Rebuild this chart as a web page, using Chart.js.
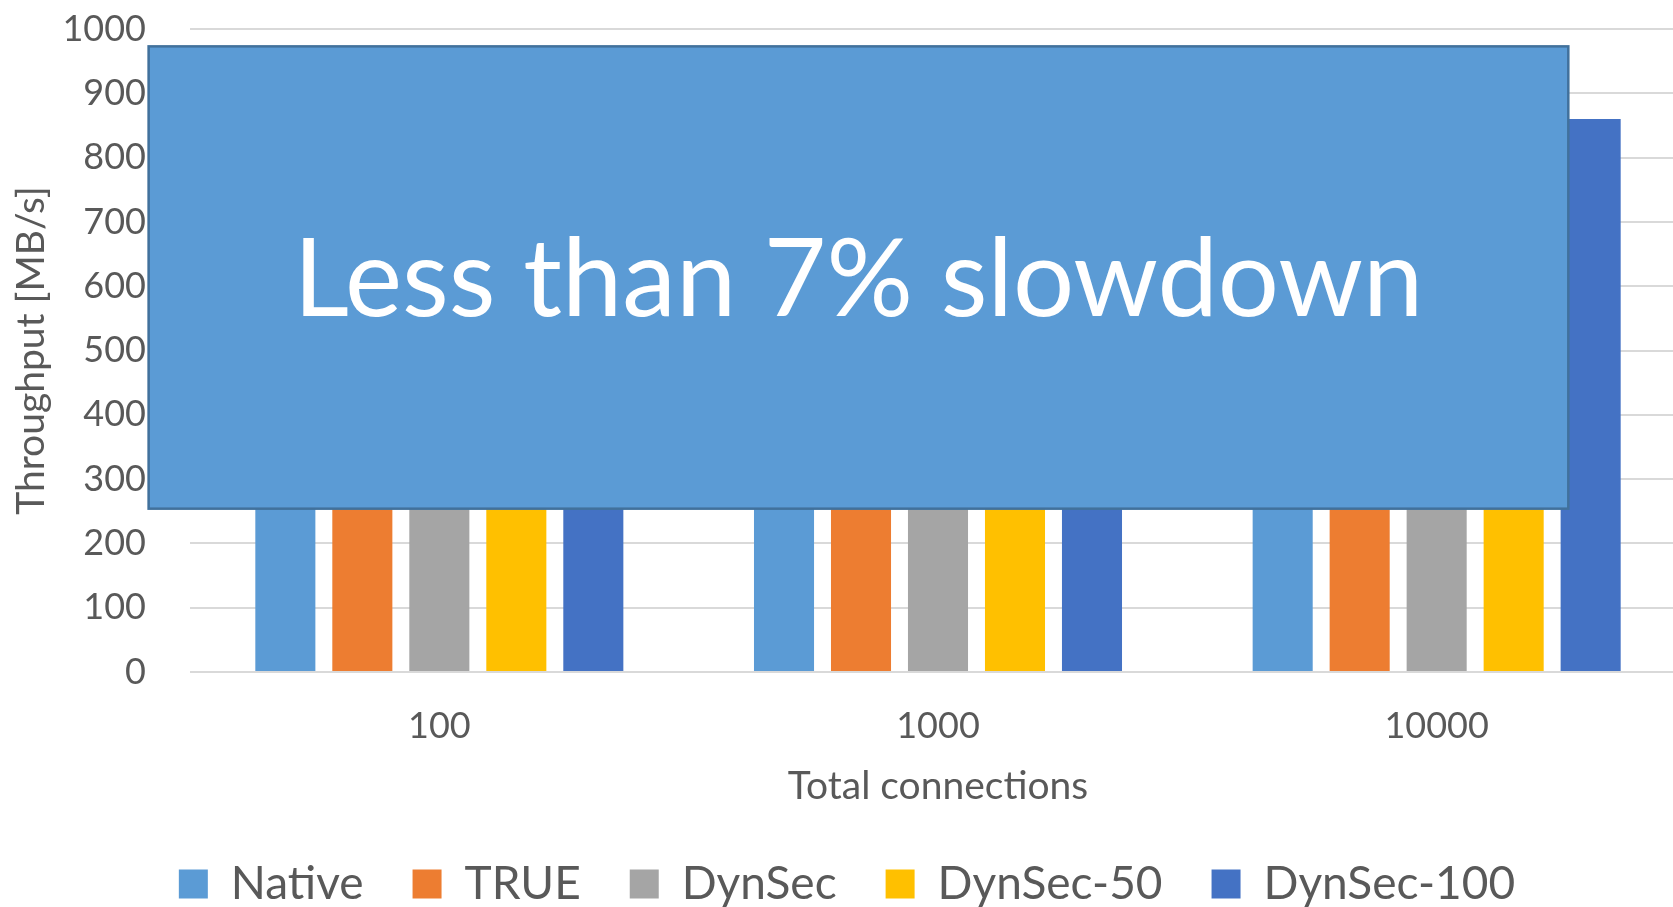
<!DOCTYPE html>
<html>
<head>
<meta charset="utf-8">
<title>Throughput vs total connections</title>
<script src="https://cdn.jsdelivr.net/npm/chart.js@4/dist/chart.umd.min.js"></script>
<style>
  html, body { margin: 0; padding: 0; background: #fff; overflow: hidden; }
  #wrap { width: 1673px; height: 907px; overflow: hidden; }
</style>
</head>
<body>
<div id="wrap"><canvas id="chart" width="1700" height="907"></canvas></div>
<script>
// Throughput per configuration, MB/s
const connections = ["100", "1000", "10000"];
const native     = [905, 925, 920];
const trueRuns   = [885, 905, 900];
const dynSec     = [875, 890, 885];
const dynSec50   = [860, 880, 870];
const dynSec100  = [850, 870, 860];

const seriesNames  = ["Native", "TRUE", "DynSec", "DynSec-50", "DynSec-100"];
const seriesColors = ["#5B9BD5", "#ED7D31", "#A5A5A5", "#FFC000", "#4472C4"];
const seriesValues = [native, trueRuns, dynSec, dynSec50, dynSec100];

const calloutText = "Less than 7% slowdown";
// callout extent in axis units (category index / MB/s)
const callout = { x0: -0.583, x1: 2.264, y0: 254, y1: 973 };

const FONT = "Lato, 'Open Sans', sans-serif";
const GREY = "#595959";

const calloutPlugin = {
  id: "callout",
  afterDatasetsDraw(chart) {
    const { ctx, scales: { x, y } } = chart;
    const left = x.getPixelForValue(callout.x0);
    const right = x.getPixelForValue(callout.x1);
    const top = y.getPixelForValue(callout.y1);
    const bottom = y.getPixelForValue(callout.y0);
    ctx.save();
    ctx.fillStyle = "#5B9BD5";
    ctx.fillRect(left, top, right - left, bottom - top);
    ctx.strokeStyle = "#41719C";
    ctx.lineWidth = 2.5;
    ctx.strokeRect(left, top, right - left, bottom - top);
    ctx.fillStyle = "#FFFFFF";
    ctx.font = "108px " + FONT;
    ctx.textAlign = "center";
    ctx.textBaseline = "middle";
    ctx.fillText(calloutText, (left + right) / 2, (top + bottom) / 2 + 4);
    ctx.restore();
  }
};

new Chart(document.getElementById("chart"), {
  type: "bar",
  data: {
    labels: connections,
    datasets: seriesNames.map((name, i) => ({
      label: name,
      data: seriesValues[i],
      backgroundColor: seriesColors[i],
      borderWidth: 0,
      categoryPercentage: 0.772,
      barPercentage: 0.78
    }))
  },
  options: {
    responsive: false,
    animation: false,
    devicePixelRatio: 1,
    layout: { padding: { left: 8, right: 14, top: 0, bottom: -10 } },
    plugins: {
      tooltip: { enabled: false },
      legend: {
        position: "bottom",
        labels: {
          boxWidth: 29,
          boxHeight: 29,
          padding: 49,
          color: GREY,
          font: { family: FONT, size: 46 }
        }
      }
    },
    scales: {
      x: {
        grid: { display: false },
        border: { display: false },
        ticks: { color: GREY, font: { family: FONT, size: 36 }, padding: 25 },
        title: {
          display: true,
          text: "Total connections",
          color: GREY,
          font: { family: FONT, size: 39 },
          padding: { top: 15, bottom: 2 }
        },
        afterFit(scale) {
          scale.height = 140;
        }
      },
      y: {
        min: 0,
        max: 1000,
        ticks: {
          stepSize: 100,
          color: GREY,
          font: { family: FONT, size: 36 },
          padding: 44,
          callback: v => String(v)
        },
        grid: { color: "#D9D9D9", lineWidth: 2, drawTicks: false },
        border: { display: false },
        title: {
          display: true,
          text: "Throughput [MB/s]",
          color: GREY,
          font: { family: FONT, size: 39 },
          padding: { top: 0, bottom: 8 }
        },
        // fixed axis width; keep the tick gap from pushing the plot down
        afterFit(scale) {
          scale.width = 182;
          scale.paddingTop = 29;
          scale.paddingBottom = 20;
        }
      }
    }
  },
  plugins: [calloutPlugin]
});
</script>
</body>
</html>
